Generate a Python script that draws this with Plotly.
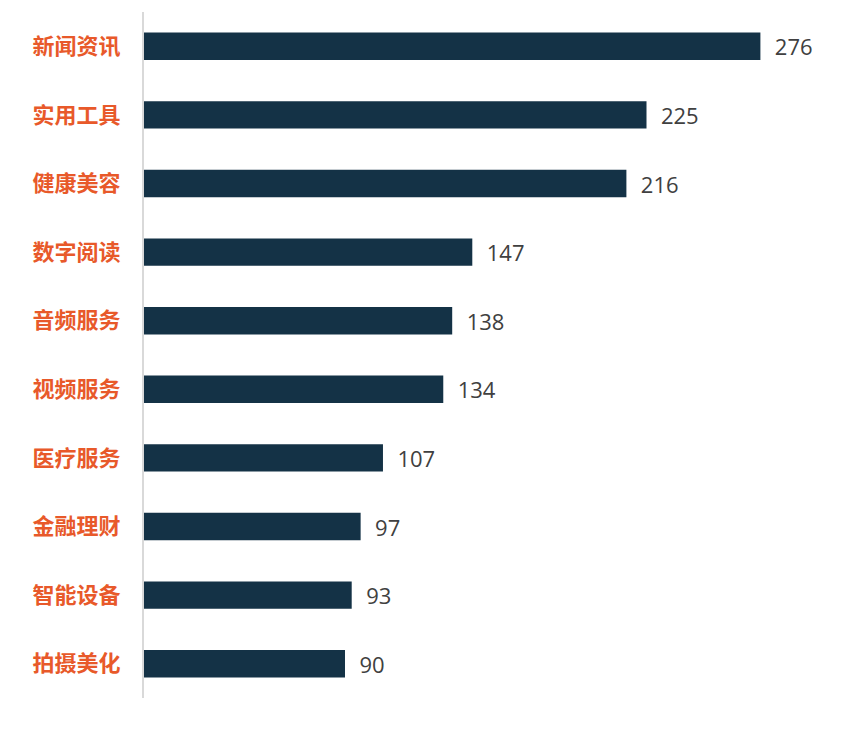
import plotly.graph_objects as go

# app categories, top to bottom
categories = ['新闻资讯', '实用工具', '健康美容', '数字阅读', '音频服务',
              '视频服务', '医疗服务', '金融理财', '智能设备', '拍摄美化']
counts = [276, 225, 216, 147, 138, 134, 107, 97, 93, 90]

bar_color = '#143246'
label_color = '#E8592A'

fig = go.Figure(go.Bar(
    x=counts,
    y=categories,
    orientation='h',
    marker_color=bar_color,
    marker_line_width=0,
    text=['  ' + str(v) for v in counts],
    textposition='outside',
    constraintext='none',
    cliponaxis=False,
    textfont=dict(family='Open Sans, Noto Sans', size=22, color='#404040'),
))

# page body adds an 8px margin, so the figure is a bit smaller than the window
fig.update_layout(
    width=851, height=736,
    margin=dict(l=136, r=45, t=4, b=46),
    plot_bgcolor='white',
    paper_bgcolor='white',
    bargap=0.6,
    showlegend=False,
)
fig.update_xaxes(range=[0, 300], visible=False, showgrid=False)
fig.update_yaxes(
    autorange='reversed',
    showline=True, linecolor='#D9D9D9', linewidth=2,
    showgrid=False, ticks='', ticklabelstandoff=17,
    tickfont=dict(family='Noto Sans CJK SC', size=22, color=label_color, weight='bold'),
)

fig.write_html("out.html")
